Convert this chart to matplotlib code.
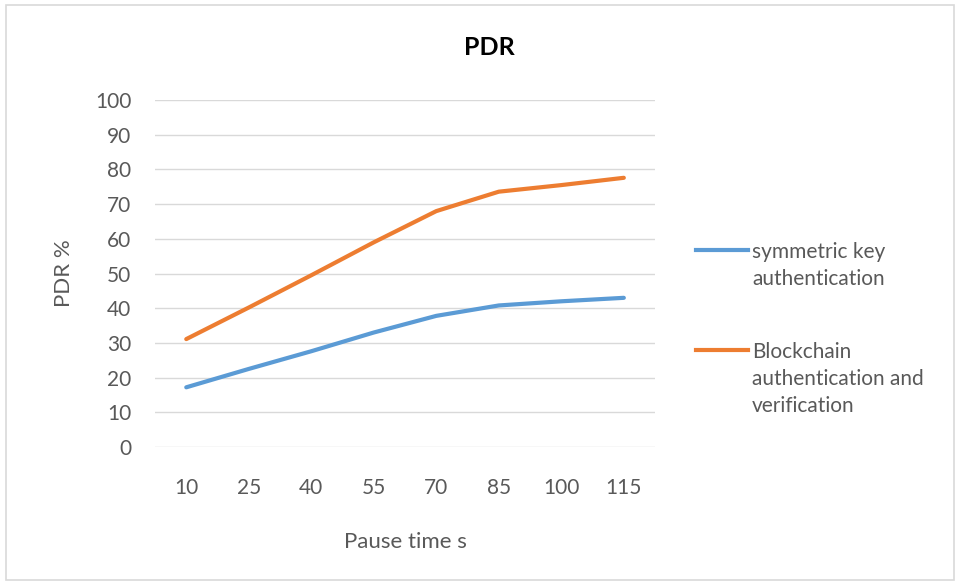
import matplotlib.pyplot as plt
from matplotlib.lines import Line2D
from matplotlib.patches import Rectangle

pause_times = ['10', '25', '40', '55', '70', '85', '100', '115']
symmetric_key = [17.2, 22.5, 27.6, 33.0, 37.8, 40.8, 42.0, 43.0]
blockchain = [31.1, 40.2, 49.5, 59.0, 68.0, 73.6, 75.5, 77.6]
series_labels = ['symmetric key\nauthentication', 'Blockchain\nauthentication and\nverification']
colors = ['#5B9BD5', '#ED7D31']
text_color = '#595959'

plt.rcParams['font.family'] = ['Lato', 'DejaVu Sans']

fig = plt.figure(figsize=(9.58, 5.82), dpi=100)
ax = fig.add_axes([0.1618, 0.232, 0.522, 0.596])

x = range(len(pause_times))
ax.plot(x, symmetric_key, color=colors[0], linewidth=3, solid_capstyle='round')
ax.plot(x, blockchain, color=colors[1], linewidth=3, solid_capstyle='round')

ax.set_xlim(-0.5, len(pause_times) - 0.5)
ax.set_ylim(0, 100)
ax.set_yticks(range(0, 101, 10))
ax.set_xticks(list(x))
ax.set_xticklabels(pause_times)
ax.grid(axis='y', color='#D9D9D9', linewidth=1)
ax.set_axisbelow(True)
for s in ax.spines.values():
    s.set_visible(False)
ax.tick_params(length=0, labelsize=15, colors=text_color)
ax.tick_params(axis='x', pad=22)
ax.tick_params(axis='y', pad=17)

ax.set_xlabel('Pause time s', fontsize=16, color=text_color, labelpad=25)
ax.set_ylabel('PDR %', fontsize=16, color=text_color, labelpad=15)
fig.text(0.511, 0.919, 'PDR', ha='center', va='center', fontsize=18,
         fontweight='bold', color='black')

# legend drawn by hand so the line sits on the first text line
legend_y = [0.570, 0.398]
for lab, col, ly in zip(series_labels, colors, legend_y):
    fig.add_artist(Line2D([0.726, 0.781], [ly, ly], color=col, linewidth=3,
                          transform=fig.transFigure))
    fig.text(0.785, ly + 0.015, lab, ha='left', va='top', fontsize=15,
             color=text_color, linespacing=1.45)

fig.add_artist(Rectangle((0.006, 0.004), 0.99, 0.987, transform=fig.transFigure,
                         fill=False, edgecolor='#D9D9D9', linewidth=1.2))

fig.savefig('out.png', dpi=100)
